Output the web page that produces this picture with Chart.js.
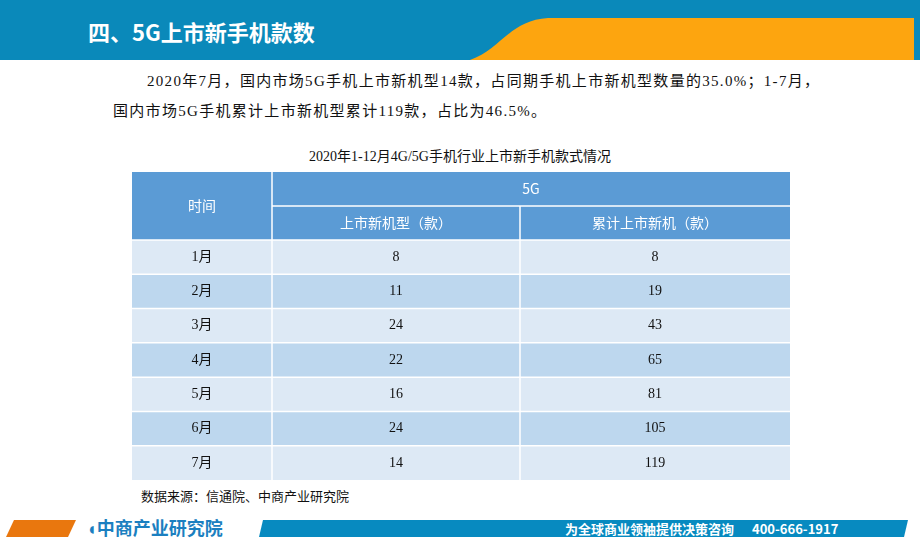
<!DOCTYPE html>
<html lang="zh">
<head>
<meta charset="UTF-8" />
<title>5G上市新手机款数</title>
<script src="https://cdn.jsdelivr.net/npm/chart.js"></script>
<style>
  body { margin:0; width:920px; height:547px; position:relative; overflow:hidden; background:#fff;
         font-family:"Liberation Serif","Noto Sans CJK SC",serif; }
  #top { position:absolute; left:0; top:0; }
  .para { position:absolute; left:0; width:920px; font-size:15px; letter-spacing:1.3px; color:#111; white-space:nowrap; }
  .cap { position:absolute; top:145px; left:0; width:920px; text-align:center; font-size:14px; color:#111; }
  .src { position:absolute; left:141px; top:486px; font-size:13px; color:#111; }
  #tbl { position:absolute; left:132px; top:172px; width:658px; height:308px; }
</style>
</head>
<body>
<svg id="top" width="920" height="547">
  <rect x="0" y="0" width="920" height="60" fill="#0a89ba"/>
  <path d="M470,60 C500,50 510,20 548,18 L920,18 L920,60 Z" fill="#fda50f"/>
  <rect x="914" y="0" width="6" height="60" fill="#0a89ba"/>
  <text x="88" y="41" fill="#fff" font-size="22" font-weight="bold" font-family="'Noto Sans CJK SC',sans-serif">四、5G上市新手机款数</text>
  <polygon points="6,537 14,520 76,520 68,537" fill="#e9770e"/>
  <text x="86" y="535" fill="#1b7fc0" font-size="18" font-weight="bold" font-family="'Noto Sans CJK SC',sans-serif">◖中商产业研究院</text>
  <polygon points="259,537 263,520 908,520 904,537" fill="#078ac0"/>
  <text x="565" y="534" fill="#fff" font-size="13" font-weight="bold" font-family="'Noto Sans CJK SC',sans-serif">为全球商业领袖提供决策咨询</text>
  <text x="752" y="534" fill="#fff" font-size="13" font-weight="bold" font-family="'Noto Sans CJK SC',sans-serif">400-666-1917</text>
</svg>
<div class="para" style="top:69px;left:147px">2020年7月，国内市场5G手机上市新机型14款，占同期手机上市新机型数量的35.0%；1-7月，</div>
<div class="para" style="top:99px;left:113px">国内市场5G手机累计上市新机型累计119款，占比为46.5%。</div>
<div class="cap">2020年1-12月4G/5G手机行业上市新手机款式情况</div>
<div id="tbl"><canvas id="c"></canvas></div>
<div class="src">数据来源：信通院、中商产业研究院</div>
<script>
const months = ["1月","2月","3月","4月","5月","6月","7月"];
const newModels = [8, 11, 24, 22, 16, 24, 14];
const cumModels = [8, 19, 43, 65, 81, 105, 119];
const headers = ["时间", "5G", "上市新机型（款）", "累计上市新机（款）"];

const tablePlugin = {
  id: "tablePlugin",
  afterDraw(chart) {
    const c = chart.ctx, y = chart.scales.y, a = chart.chartArea;
    const W = chart.width, col1 = 140, col2 = 388;
    const rh = (a.bottom - a.top) / months.length;
    c.save();
    c.fillStyle = "#5b9bd5";
    c.fillRect(0, 0, W, a.top);
    c.strokeStyle = "#fff"; c.lineWidth = 1.5;
    c.beginPath();
    c.moveTo(col1, 0); c.lineTo(col1, a.top);
    c.moveTo(col1, 34); c.lineTo(W, 34);
    c.moveTo(col2, 34); c.lineTo(col2, a.top);
    c.stroke();
    c.fillStyle = "#fff"; c.textAlign = "center"; c.textBaseline = "middle";
    c.font = "14px 'Noto Sans CJK SC', sans-serif";
    c.fillText(headers[0], col1 / 2, a.top / 2);
    c.fillText(headers[1], (col1 + W) / 2, 17);
    c.fillText(headers[2], (col1 + col2) / 2, 51);
    c.fillText(headers[3], (col2 + W) / 2, 51);
    months.forEach((m, i) => {
      const cy = y.getPixelForValue(i);
      c.fillStyle = i % 2 ? "#bdd7ee" : "#dde9f5";
      c.fillRect(0, cy - rh / 2, W, rh);
      c.strokeStyle = "#fff";
      c.beginPath();
      c.moveTo(0, cy - rh / 2); c.lineTo(W, cy - rh / 2);
      c.moveTo(col1, cy - rh / 2); c.lineTo(col1, cy + rh / 2);
      c.moveTo(col2, cy - rh / 2); c.lineTo(col2, cy + rh / 2);
      c.stroke();
      c.fillStyle = "#111";
      c.font = "14px 'Liberation Serif','Noto Sans CJK SC', serif";
      c.fillText(m, col1 / 2, cy);
      c.fillText(String(newModels[i]), (col1 + col2) / 2, cy);
      c.fillText(String(cumModels[i]), (col2 + W) / 2, cy);
    });
    c.restore();
  }
};

new Chart(document.getElementById("c"), {
  type: "bar",
  data: {
    labels: months,
    datasets: [
      { label: "上市新机型", data: newModels, backgroundColor: "rgba(0,0,0,0)" },
      { label: "累计上市新机", data: cumModels, backgroundColor: "rgba(0,0,0,0)" }
    ]
  },
  options: {
    indexAxis: "y",
    responsive: true, maintainAspectRatio: false, animation: false,
    layout: { padding: { top: 68, left: 0, right: 0, bottom: 0 } },
    plugins: { legend: { display: false }, tooltip: { enabled: false } },
    scales: {
      y: { display: false, offset: true, grid: { display: false } },
      x: { display: false, min: 0 }
    }
  },
  plugins: [tablePlugin]
});
</script>
</body>
</html>
